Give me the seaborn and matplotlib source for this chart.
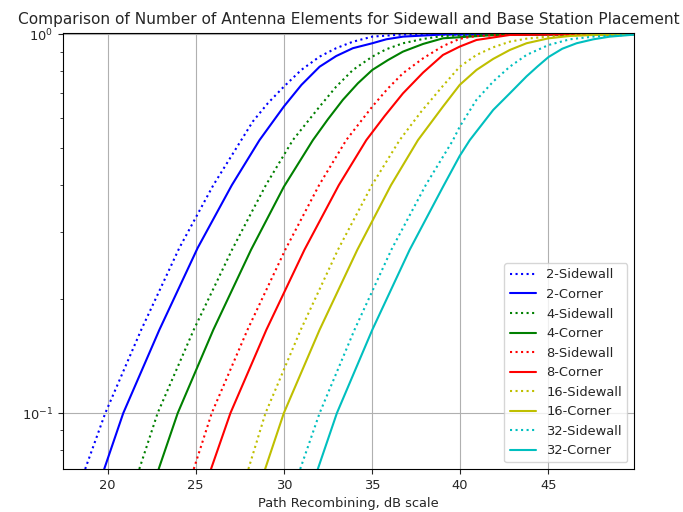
import matplotlib
matplotlib.use("Agg")
import matplotlib.pyplot as plt
import seaborn as sns
import pandas as pd

# ---- data (x in dB, y = cumulative probability) ----
x_2_sidewall = [18.73, 19.87, 21.91, 24.07, 26.00, 28.24, 29.09, 30.00, 30.99, 32.03, 32.97, 33.92, 35.02, 36.76, 50.0]
y_2_sidewall = [0.0712, 0.100, 0.166, 0.273, 0.400, 0.589, 0.658, 0.728, 0.806, 0.874, 0.920, 0.957, 0.987, 1.000, 1.000]

x_2_corner = [19.81, 20.89, 22.94, 25.11, 27.05, 28.62, 30.00, 31.00, 32.03, 32.97, 33.92, 35.02, 35.81, 36.76, 39.03, 50.0]
y_2_corner = [0.0712, 0.100, 0.166, 0.273, 0.400, 0.526, 0.645, 0.736, 0.822, 0.877, 0.920, 0.948, 0.971, 0.987, 1.000, 1.000]

x_4_sidewall = [21.80, 22.84, 24.89, 27.06, 28.24, 28.98, 30.51, 32.03, 32.97, 33.92, 35.02, 35.81, 36.76, 37.90, 39.03, 42.0, 50.0]
y_4_sidewall = [0.0712, 0.100, 0.166, 0.270, 0.344, 0.400, 0.526, 0.645, 0.728, 0.806, 0.874, 0.914, 0.948, 0.973, 0.991, 1.000, 1.000]

x_4_corner = [22.90, 23.98, 26.00, 28.14, 30.00, 31.65, 32.50, 33.35, 34.20, 35.02, 35.91, 36.76, 37.90, 39.03, 42.0, 44.0, 50.0]
y_4_corner = [0.0712, 0.100, 0.166, 0.270, 0.396, 0.526, 0.597, 0.672, 0.743, 0.806, 0.856, 0.901, 0.944, 0.977, 0.997, 1.000, 1.000]

x_8_sidewall = [24.89, 25.91, 27.94, 30.08, 32.00, 33.54, 35.02, 35.89, 36.76, 37.90, 39.03, 39.98, 40.93, 42.82, 50.0]
y_8_sidewall = [0.0712, 0.100, 0.166, 0.270, 0.400, 0.526, 0.645, 0.719, 0.790, 0.865, 0.932, 0.974, 0.991, 1.000, 1.000]

x_8_corner = [25.87, 26.97, 29.01, 31.17, 33.12, 34.68, 35.72, 36.76, 37.90, 39.03, 39.98, 40.93, 42.82, 45.28, 50.0]
y_8_corner = [0.0712, 0.100, 0.166, 0.270, 0.400, 0.526, 0.609, 0.699, 0.793, 0.883, 0.929, 0.967, 0.997, 1.000, 1.000]

x_16_sidewall = [27.99, 28.96, 30.96, 33.07, 35.00, 36.57, 37.80, 39.03, 39.98, 40.93, 41.88, 42.82, 43.77, 45.02, 47.56, 50.0]
y_16_sidewall = [0.0712, 0.100, 0.166, 0.270, 0.400, 0.526, 0.626, 0.732, 0.822, 0.883, 0.925, 0.957, 0.975, 0.987, 1.000, 1.000]

x_16_corner = [28.94, 30.00, 32.03, 34.17, 36.08, 37.61, 39.03, 39.98, 40.93, 41.88, 42.82, 43.77, 45.02, 46.23, 47.56, 50.0]
y_16_corner = [0.0712, 0.100, 0.166, 0.270, 0.400, 0.526, 0.645, 0.736, 0.806, 0.862, 0.910, 0.948, 0.977, 0.991, 0.997, 1.000]

x_32_sidewall = [30.93, 32.03, 34.01, 36.10, 38.05, 39.60, 39.98, 40.93, 41.88, 42.82, 43.77, 45.02, 46.23, 47.56, 50.0]
y_32_sidewall = [0.0712, 0.100, 0.166, 0.270, 0.400, 0.526, 0.571, 0.672, 0.751, 0.822, 0.883, 0.938, 0.971, 0.987, 1.000]

x_32_corner = [31.93, 33.01, 35.02, 37.14, 39.03, 39.98, 40.55, 41.88, 42.82, 43.77, 44.39, 45.02, 45.80, 46.61, 47.56, 48.50, 50.0]
y_32_corner = [0.0712, 0.100, 0.166, 0.270, 0.396, 0.478, 0.526, 0.632, 0.699, 0.775, 0.823, 0.872, 0.917, 0.948, 0.971, 0.987, 1.000]

labels = ["2-Sidewall", "2-Corner", "4-Sidewall", "4-Corner", "8-Sidewall",
          "8-Corner", "16-Sidewall", "16-Corner", "32-Sidewall", "32-Corner"]
series = [(x_2_sidewall, y_2_sidewall), (x_2_corner, y_2_corner),
          (x_4_sidewall, y_4_sidewall), (x_4_corner, y_4_corner),
          (x_8_sidewall, y_8_sidewall), (x_8_corner, y_8_corner),
          (x_16_sidewall, y_16_sidewall), (x_16_corner, y_16_corner),
          (x_32_sidewall, y_32_sidewall), (x_32_corner, y_32_corner)]
colors = ["b", "b", "g", "g", "r", "r", "y", "y", "c", "c"]
styles = [":", "-", ":", "-", ":", "-", ":", "-", ":", "-"]

sns.set_style("white")
plt.rcParams['font.family'] = ['DejaVu Sans']

fig = plt.figure(figsize=(6.83, 5.12), dpi=100)
ax = fig.add_axes([0.0922, 0.084, 0.8356, 0.8525])

for (xs, ys), lab, c, ls in zip(series, labels, colors, styles):
    df = pd.DataFrame({"x": xs, "y": ys})
    sns.lineplot(data=df, x="x", y="y", color=c, linestyle=ls, linewidth=1.5,
                 label=lab, ax=ax, sort=True, estimator=None)

ax.set_yscale("log")
ax.set_xlim(17.47, 49.85)
ax.set_ylim(0.0712, 1.012)
ax.set_xticks([20, 25, 30, 35, 40, 45])
ax.grid(True, which="major", color="#b0b0b0", linewidth=0.8)
ax.tick_params(axis="both", which="major", direction="out", length=3.5, width=0.8,
               labelsize=9.4, left=True, bottom=True)
ax.tick_params(axis="y", which="minor", direction="out", length=2, width=0.6, left=True)
for s in ax.spines.values():
    s.set_color("black")
    s.set_linewidth(0.8)

ax.set_xlabel("Path Recombining, dB scale", fontsize=9.4)
ax.set_ylabel("")
ax.set_title("Comparison of Number of Antenna Elements for Sidewall and Base Station Placement",
             fontsize=11.1)
ax.legend(loc="lower right", fontsize=9.4, frameon=True)

fig.savefig("out.png", dpi=100)
